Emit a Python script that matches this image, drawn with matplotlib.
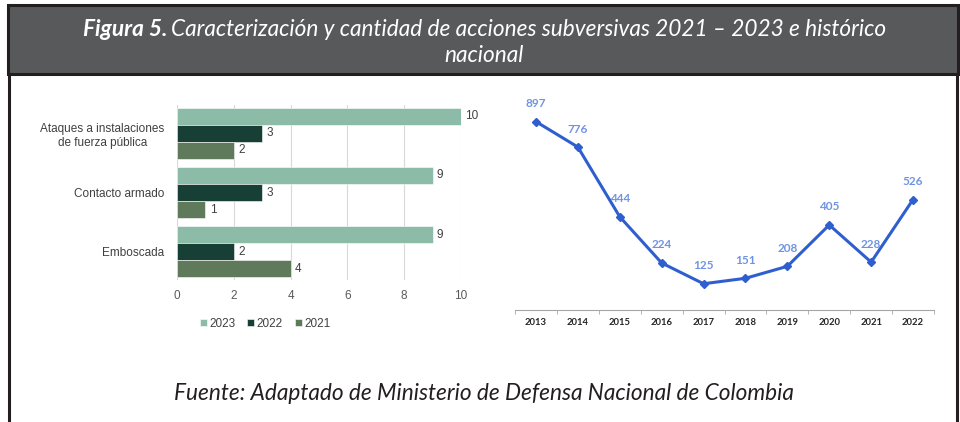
import numpy as np
import matplotlib.pyplot as plt
from matplotlib.patches import Rectangle

# ---- data ----
categories = ["Ataques a instalaciones\nde fuerza pública", "Contacto armado", "Emboscada"]
series_names = ["2023", "2022", "2021"]
vals_2023 = [10, 9, 9]
vals_2022 = [3, 3, 2]
vals_2021 = [2, 1, 4]

years = ["2013", "2014", "2015", "2016", "2017", "2018", "2019", "2020", "2021", "2022"]
totals = [897, 776, 444, 224, 125, 151, 208, 405, 228, 526]

W, H = 960, 422
plt.rcParams["font.family"] = ["Liberation Sans", "DejaVu Sans"]
fig = plt.figure(figsize=(W / 100, H / 100), dpi=100)
fig.patch.set_facecolor("white")


def fx(px):
    return px / W


def fy(py):
    return 1 - py / H


# ---- frame and title band ----
fig.add_artist(Rectangle((fx(8), fy(74)), fx(950), 69 / H, transform=fig.transFigure,
                         facecolor="#58595b", edgecolor="#231f20", linewidth=2.2, zorder=0))
fig.add_artist(plt.Line2D([fx(9), fx(9)], [0, fy(74)], transform=fig.transFigure,
                          color="#231f20", linewidth=2.2))
fig.add_artist(plt.Line2D([fx(957), fx(957)], [0, fy(74)], transform=fig.transFigure,
                          color="#231f20", linewidth=2.2))

tfont = "Lato"
tsize = 16.3
t1 = fig.text(fx(83), fy(29), "Figura 5.", color="white", fontsize=tsize, fontweight="bold",
              fontstyle="italic", family=tfont, ha="left", va="center")
renderer = fig.canvas.get_renderer()
bb = t1.get_window_extent(renderer)
fig.text(bb.x1 / W + fx(4), fy(29),
         "Caracterización y cantidad de acciones subversivas 2021 – 2023 e histórico",
         color="white", fontsize=tsize, fontstyle="italic", family=tfont, ha="left", va="center")
fig.text(fx(484), fy(56), "nacional", color="white", fontsize=tsize, fontstyle="italic",
         family=tfont, ha="center", va="center")

fig.text(fx(484), fy(393), "Fuente: Adaptado de Ministerio de Defensa Nacional de Colombia",
         color="#231f20", fontsize=16.3, fontstyle="italic", family=tfont,
         ha="center", va="center")

# ---- left: grouped horizontal bars ----
ax1 = fig.add_axes([fx(177), fy(280), fx(461 - 177), (280 - 105) / H])
colors = ["#8cbba8", "#173f35", "#5e7a5a"]
bh = 17 / 59
y = np.arange(len(categories))
for i, (vals, c, name) in enumerate(zip([vals_2023, vals_2022, vals_2021], colors, series_names)):
    pos = y + (i - 1) * bh
    ax1.barh(pos, vals, height=bh, color=c, edgecolor="white", linewidth=0.4,
             label=name, zorder=3)
    for p, v in zip(pos, vals):
        ax1.text(v + 0.15, p, str(v), va="center", ha="left", fontsize=8.5, color="#404040")

ax1.set_ylim(2.483, -0.483)
ax1.set_xlim(0, 10)
ax1.set_xticks(range(0, 11, 2))
ax1.set_yticks(y)
ax1.set_yticklabels(categories, fontsize=8.5, color="#404040", ha="right",
                    multialignment="center")
ax1.tick_params(axis="y", length=0, pad=9)
ax1.tick_params(axis="x", length=0, labelsize=8.5, labelcolor="#595959", pad=7)
ax1.grid(axis="x", color="#d9d9d9", linewidth=0.8, zorder=0)
for s in ax1.spines.values():
    s.set_visible(False)
ax1.legend(loc="upper center", bbox_to_anchor=(0.31, -0.155), ncol=3, frameon=False,
           fontsize=8.5, handlelength=0.6, handleheight=0.6, handletextpad=0.2,
           columnspacing=1.0, labelcolor="#404040")

# ---- right: line chart ----
ax2 = fig.add_axes([fx(515), fy(310), fx(934 - 515), (310 - 100) / H])
x = np.arange(len(years))
ax2.plot(x, totals, color="#2f5fcf", linewidth=2.2, marker="D", markersize=4.5, zorder=3)
for xi, v in zip(x, totals):
    ax2.annotate(str(v), (xi, v), xytext=(0, 9), textcoords="offset points",
                 ha="center", va="bottom", fontsize=8.5, fontweight="bold", color="#6f93e3",
                 family="Lato")
ax2.set_xlim(-0.5, len(years) - 0.5)
ax2.set_ylim(0, 1000)
ax2.set_xticks(x)
ax2.set_xticklabels(years, fontsize=6.8, fontweight="bold", color="#262626", family="Lato")
ax2.set_xticks(np.arange(-0.5, len(years)), minor=True)
ax2.tick_params(axis="x", which="major", length=0, pad=6)
ax2.tick_params(axis="x", which="minor", length=3, color="#a6a6a6")
ax2.set_yticks([])
for s in ["top", "right", "left"]:
    ax2.spines[s].set_visible(False)
ax2.spines["bottom"].set_color("#a6a6a6")

fig.savefig("out.png", dpi=100)
